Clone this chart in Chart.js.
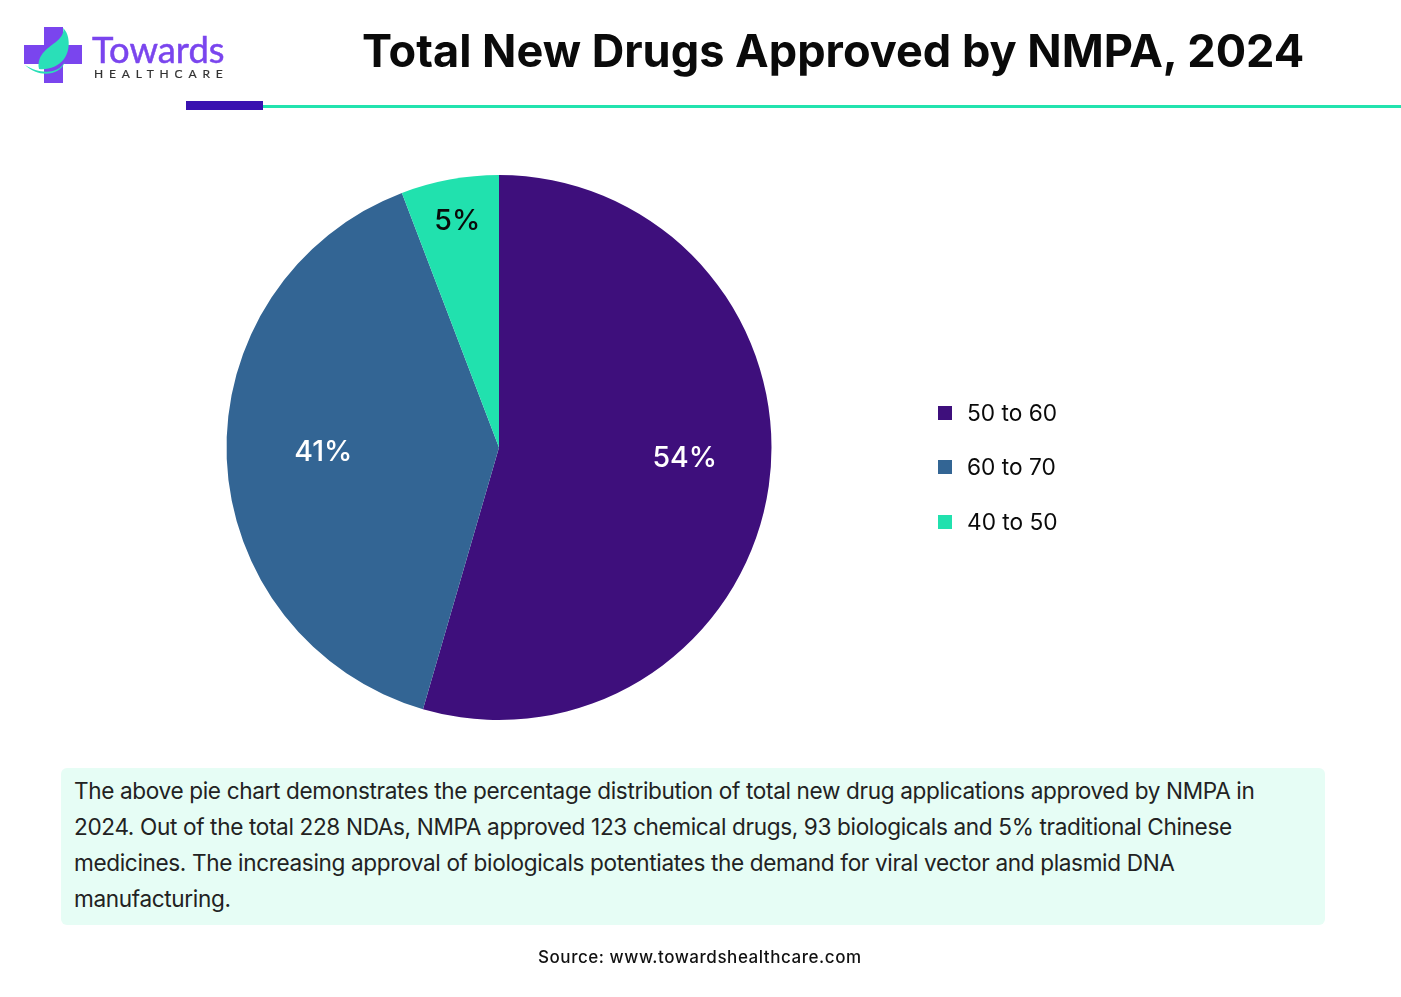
<!DOCTYPE html>
<html>
<head>
<meta charset="utf-8">
<title>Total New Drugs Approved by NMPA, 2024</title>
<script src="https://cdn.jsdelivr.net/npm/chart.js@4"></script>
<style>
  html, body { margin: 0; padding: 0; background: #fff; }
  #page { position: relative; width: 1401px; height: 997px; overflow: hidden; font-family: Inter, sans-serif; color: #111; }
  #chartWrap { position: absolute; left: 0; top: 0; width: 1401px; height: 997px; }
  #title { position: absolute; left: 362px; top: 22px; font-size: 45.1px; font-weight: 700; color: #0a0a0a; white-space: nowrap; line-height: 58px; }
  #ruleDark { position: absolute; left: 186px; top: 101px; width: 77px; height: 9px; background: #3a12b0; }
  #ruleLight { position: absolute; left: 263px; top: 105px; width: 1138px; height: 3px; background: #22e3ae; }
  #logo { position: absolute; left: 24px; top: 26px; }
  #brand { position: absolute; left: 92px; top: 28px; font-family: Lato, sans-serif; font-size: 36.4px; color: #7a45ee; line-height: 42px; -webkit-text-stroke: 0.5px #7a45ee; }
  #brandSub { position: absolute; left: 94px; top: 67px; font-family: Lato, sans-serif; font-size: 12px; letter-spacing: 5.85px; color: #333; line-height: 14px; -webkit-text-stroke: 0.2px #333; }
  #legend { position: absolute; left: 938px; top: 399px; }
  .item { position: absolute; left: 0; white-space: nowrap; font-size: 22.7px; line-height: 28px; color: #0a0a0a; padding-left: 29px; }
  .swatch { position: absolute; left: 0; top: 7px; width: 14px; height: 14px; }
  #note { position: absolute; left: 61px; top: 768px; width: 1264px; height: 157px; background: #e6fdf5; border-radius: 6px; }
  #note p { margin: 0; position: absolute; left: 13px; top: 5px; width: 1245px; font-size: 22.6px; line-height: 36px; color: #222; letter-spacing: -0.36px; white-space: nowrap; }
  #source { position: absolute; left: 538px; top: 947px; font-size: 17px; font-weight: 500; line-height: 20px; letter-spacing: 0.55px; color: #111; white-space: nowrap; }
</style>
</head>
<body>
<div id="page">
  <div id="chartWrap"><canvas id="pieChart"></canvas></div>

  <svg id="logo" width="60" height="60" viewBox="0 0 60 60">
    <path d="M20 1h19v18h19v19H39v19H20V38H0V19h20z" fill="#7a45ee"/>
    <path d="M15 43C12 28 26 21 33 15C39 10 40 5 39 2C46 8 47 24 40 33C34 41 24 44 15 43z" fill="#2adfb8"/>
    <path d="M1 39C14 47 32 50 41 36C36 50 14 52 1 39z" fill="#2adfb8"/>
  </svg>
  <div id="brand">Towards</div>
  <div id="brandSub">HEALTHCARE</div>

  <div id="title">Total New Drugs Approved by NMPA, 2024</div>
  <div id="ruleDark"></div>
  <div id="ruleLight"></div>

  <div id="legend"></div>

  <div id="note"><p>The above pie chart demonstrates the percentage distribution of total new drug applications approved by NMPA in<br>2024. Out of the total 228 NDAs, NMPA approved 123 chemical drugs, 93 biologicals and 5% traditional Chinese<br>medicines. The increasing approval of biologicals potentiates the demand for viral vector and plasmid DNA<br>manufacturing.</p></div>
  <div id="source">Source: www.towardshealthcare.com</div>
</div>

<script>
// Slices as drawn in the picture, printed labels are rounded differently
const categories = ['50 to 60', '60 to 70', '40 to 50'];
const sliceValues = [54.5, 39.7, 5.8];
const sliceLabels = ['54%', '41%', '5%'];
const sliceColors = ['#3e0f7c', '#336594', '#21e1ae'];
const labelColors = ['#ffffff', '#ffffff', '#0a0a0a'];
// where each label sits: share of the radius, and turn away from the slice middle
const labelRadius = [0.683, 0.645, 0.845];
const labelTurn = [-0.08, 0.015, 0];
const legendTops = [0, 54, 109];

// Legend
const legendEl = document.getElementById('legend');
categories.forEach((name, i) => {
  const item = document.createElement('div');
  item.className = 'item';
  item.style.top = legendTops[i] + 'px';
  item.innerHTML = '<span class="swatch" style="background:' + sliceColors[i] + '"></span>' + name;
  legendEl.appendChild(item);
});

// Percent text on top of the slices
const sliceText = {
  id: 'sliceText',
  afterDatasetsDraw(chart) {
    const c = chart.ctx;
    c.save();
    c.font = '500 28.5px Inter, sans-serif';
    c.textAlign = 'center';
    c.textBaseline = 'middle';
    chart.getDatasetMeta(0).data.forEach((arc, i) => {
      const mid = (arc.startAngle + arc.endAngle) / 2 + labelTurn[i];
      const r = arc.outerRadius * labelRadius[i];
      c.fillStyle = labelColors[i];
      c.fillText(sliceLabels[i], arc.x + Math.cos(mid) * r, arc.y + Math.sin(mid) * r);
    });
    c.restore();
  }
};

const ctx = document.getElementById('pieChart').getContext('2d');
new Chart(ctx, {
  type: 'pie',
  data: {
    labels: categories,
    datasets: [{
      data: sliceValues,
      backgroundColor: sliceColors,
      borderWidth: 0
    }]
  },
  options: {
    responsive: true,
    maintainAspectRatio: false,
    animation: false,
    layout: { padding: { left: 226, right: 629, top: 175, bottom: 277 } },
    plugins: { legend: { display: false }, tooltip: { enabled: false } }
  },
  plugins: [sliceText]
});
</script>
</body>
</html>
